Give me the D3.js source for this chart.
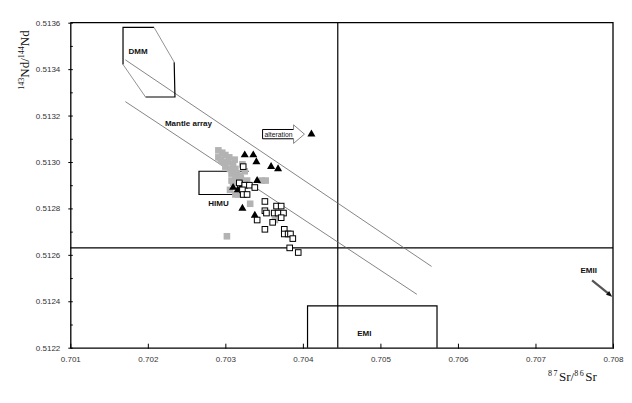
<!DOCTYPE html>
<html>
<head>
<meta charset="utf-8">
<script src="https://cdn.jsdelivr.net/npm/d3@7"></script>
<style>
    body { margin: 0; background: #fff; }
    svg { display: block; font-family: "Liberation Sans", Arial, sans-serif; }
    .tick text { font-size: 8px; fill: #333; }
    .lbl { font-size: 8px; font-weight: bold; fill: #111; }
    .title { font-family: "Liberation Serif", "Times New Roman", serif; font-size: 13px; fill: #111; }
</style>
</head>
<body>
<svg width="632" height="403"></svg>
<script>
// 87Sr/86Sr vs 143Nd/144Nd
const xTicks = [0.701, 0.702, 0.703, 0.704, 0.705, 0.706, 0.707, 0.708];
const yTicks = [0.5122, 0.5124, 0.5126, 0.5128, 0.513, 0.5132, 0.5134, 0.5136];
const yMinor = [0.5123, 0.5125, 0.5127, 0.5129, 0.5131, 0.5133, 0.5135];

// bulk earth reference lines
const bulkSr = 0.70445;
const churNd = 0.51263;

// grey field (published data)
const greyPts = [
    [0.70291, 0.51305], [0.703, 0.51303], [0.70291, 0.51302], [0.70305, 0.51302],
    [0.70297, 0.513], [0.70303, 0.513], [0.7031, 0.51299], [0.703, 0.51298],
    [0.70306, 0.51297], [0.70313, 0.51297], [0.70308, 0.51295], [0.70315, 0.51295],
    [0.70319, 0.51294], [0.70313, 0.51293], [0.70317, 0.51292], [0.7031, 0.51291],
    [0.70306, 0.51288], [0.70313, 0.51286], [0.70317, 0.51286], [0.70347, 0.51292],
    [0.70352, 0.51292], [0.70332, 0.51282], [0.70364, 0.51275], [0.70302, 0.51268],
    [0.70322, 0.51299], [0.70294, 0.51301], [0.70302, 0.513], [0.7032, 0.51293],
    [0.70325, 0.51296], [0.70296, 0.51304], [0.70308, 0.51292], [0.70312, 0.51301],
    [0.70322, 0.5129], [0.70328, 0.51292]
];

// filled triangles
const triPts = [
    [0.70325, 0.51303], [0.70336, 0.51303], [0.7034, 0.513], [0.70359, 0.51298],
    [0.70368, 0.51297], [0.70341, 0.51292], [0.7031, 0.51289], [0.70316, 0.51288],
    [0.70322, 0.5129], [0.70322, 0.5128], [0.70338, 0.51277], [0.70411, 0.51312]
];

// open squares
const openPts = [
    [0.70323, 0.51298], [0.70318, 0.51291], [0.70325, 0.5129], [0.70331, 0.5129],
    [0.70338, 0.51289], [0.70322, 0.51288], [0.70323, 0.51286], [0.70328, 0.51286],
    [0.70351, 0.51283], [0.70366, 0.51281], [0.70372, 0.51281], [0.70351, 0.51279],
    [0.70353, 0.51278], [0.70363, 0.51278], [0.70368, 0.51278], [0.70375, 0.51278],
    [0.70372, 0.51276], [0.70361, 0.51274], [0.70341, 0.51275], [0.70351, 0.51271],
    [0.70376, 0.51271], [0.70376, 0.51269], [0.70381, 0.51269], [0.70384, 0.51269],
    [0.70387, 0.51267], [0.70383, 0.51263], [0.70394, 0.51261]
];

// reservoir fields
const dmmBlack = [
    [[0.70168, 0.51342], [0.70168, 0.51358], [0.70208, 0.51358]],
    [[0.70234, 0.51343], [0.70235, 0.51328], [0.70197, 0.51328]]
];
const dmmGrey = [
    [[0.70208, 0.51358], [0.70234, 0.51343]],
    [[0.70197, 0.51328], [0.70168, 0.51342]]
];
const himuBox = [0.70266, 0.7033, 0.51286, 0.51296];
const emiBox = [0.70406, 0.70573, 0.5122, 0.51238];
const mantleArray = [
    [[0.70171, 0.51344], [0.70566, 0.51255]],
    [[0.70171, 0.51326], [0.70547, 0.51243]]
];
const emiiArrow = [[0.70773, 0.51249], [0.70799, 0.51242]];
// alteration arrow: box x0..x1, head tip, box y, head y
const altX = [0.70348, 0.70388, 0.70402];
const altY = [0.51314, 0.5131, 0.51312, 0.51316, 0.51308];

const labels = [
    { text: "DMM", x: 0.70175, y: 0.513465 },
    { text: "Mantle array", x: 0.70222, y: 0.513155 },
    { text: "HIMU", x: 0.70278, y: 0.51281 },
    { text: "EMI", x: 0.7047, y: 0.51225 },
    { text: "EMII", x: 0.70758, y: 0.51252 }
];

const svg = d3.select("svg");
const x = d3.scaleLinear().domain([0.701, 0.708]).range([70.3, 613]);
const y = d3.scaleLinear().domain([0.5122, 0.5136]).range([347.7, 22.7]);
const line = d3.line().x(d => x(d[0])).y(d => y(d[1]));

// axes
svg.append("g")
    .attr("transform", `translate(0,${y(0.5122)})`)
    .call(d3.axisBottom(x).tickValues(xTicks).tickFormat(d3.format(".3f")).tickSizeInner(-4).tickSizeOuter(0).tickPadding(9))
    .call(g => g.selectAll(".tick line").attr("y2", -4).attr("y1", 1))
    .call(g => g.select(".domain").attr("stroke-width", 1.3));

svg.append("g")
    .attr("transform", `translate(${x(0.701)},0)`)
    .call(d3.axisLeft(y).tickValues(yTicks).tickFormat(d3.format(".4f")).tickSizeInner(-2.5).tickSizeOuter(0).tickPadding(10))
    .call(g => g.selectAll(".tick line").attr("x1", -2))
    .call(g => g.select(".domain").attr("stroke-width", 1.3));

svg.append("g")
    .attr("transform", `translate(${x(0.701)},0)`)
    .call(d3.axisLeft(y).tickValues(yMinor).tickFormat("").tickSizeInner(-2.5).tickSizeOuter(0))
    .call(g => g.select(".domain").remove());

// frame top / right
svg.append("path").attr("d", line([[0.701, 0.5136], [0.708, 0.5136], [0.708, 0.5122]]))
    .attr("fill", "none").attr("stroke", "#000").attr("stroke-width", 1.3);

// reference lines
svg.append("path").attr("d", line([[0.701, churNd], [0.708, churNd]]))
    .attr("stroke", "#000").attr("stroke-width", 1.2);
svg.append("path").attr("d", line([[bulkSr, 0.5122], [bulkSr, 0.5136]]))
    .attr("stroke", "#000").attr("stroke-width", 1.2);

// mantle array
mantleArray.forEach(seg => {
    svg.append("path").attr("d", line(seg)).attr("stroke", "#666").attr("stroke-width", 0.8);
});

// DMM
dmmBlack.forEach(seg => {
    svg.append("path").attr("d", line(seg)).attr("fill", "none").attr("stroke", "#000").attr("stroke-width", 1.2);
});
dmmGrey.forEach(seg => {
    svg.append("path").attr("d", line(seg)).attr("stroke", "#777").attr("stroke-width", 0.8);
});

// HIMU, EMI boxes
svg.append("path")
    .attr("d", line([[himuBox[1], himuBox[3]], [himuBox[0], himuBox[3]], [himuBox[0], himuBox[2]], [himuBox[1], himuBox[2]]]))
    .attr("fill", "none").attr("stroke", "#000").attr("stroke-width", 1.2);
svg.append("path")
    .attr("d", line([[emiBox[0], emiBox[2]], [emiBox[0], emiBox[3]], [emiBox[1], emiBox[3]], [emiBox[1], emiBox[2]]]))
    .attr("fill", "none").attr("stroke", "#000").attr("stroke-width", 1.2);

// EMII arrow
const [a0, a1] = emiiArrow.map(d => [x(d[0]), y(d[1])]);
const ang = Math.atan2(a1[1] - a0[1], a1[0] - a0[0]);
svg.append("line")
    .attr("x1", a0[0]).attr("y1", a0[1])
    .attr("x2", a1[0] - 4 * Math.cos(ang)).attr("y2", a1[1] - 4 * Math.sin(ang))
    .attr("stroke", "#555").attr("stroke-width", 2.2);
svg.append("path")
    .attr("d", d3.line()([
        a1,
        [a1[0] - 6 * Math.cos(ang) + 2.5 * Math.sin(ang), a1[1] - 6 * Math.sin(ang) - 2.5 * Math.cos(ang)],
        [a1[0] - 6 * Math.cos(ang) - 2.5 * Math.sin(ang), a1[1] - 6 * Math.sin(ang) + 2.5 * Math.cos(ang)]
    ]) + "Z")
    .attr("fill", "#111");

// alteration arrow
svg.append("path")
    .attr("d", line([[altX[1], altY[0]], [altX[0], altY[0]], [altX[0], altY[1]], [altX[1], altY[1]]]))
    .attr("fill", "#fff").attr("stroke", "#000").attr("stroke-width", 1);
svg.append("path")
    .attr("d", line([[altX[1], altY[0]], [altX[1], altY[3]], [altX[2], altY[2]], [altX[1], altY[4]], [altX[1], altY[1]]]))
    .attr("fill", "none").attr("stroke", "#777").attr("stroke-width", 0.9);
svg.append("text")
    .attr("x", x(altX[0]) + 2).attr("y", y(altY[2]) + 2.5)
    .attr("font-size", 6.8).attr("fill", "#111")
    .text("alteration");

// data
svg.append("g").selectAll("rect").data(greyPts).join("rect")
    .attr("x", d => x(d[0]) - 3.3).attr("y", d => y(d[1]) - 3.3)
    .attr("width", 6.6).attr("height", 6.6)
    .attr("fill", "#b3b3b3");

svg.append("g").selectAll("path").data(triPts).join("path")
    .attr("transform", d => `translate(${x(d[0])},${y(d[1])})`)
    .attr("d", d3.symbol(d3.symbolTriangle, 28))
    .attr("fill", "#000");

svg.append("g").selectAll("rect").data(openPts).join("rect")
    .attr("x", d => x(d[0]) - 2.8).attr("y", d => y(d[1]) - 2.8)
    .attr("width", 5.6).attr("height", 5.6)
    .attr("fill", "#fff").attr("stroke", "#000").attr("stroke-width", 1);

// field labels
svg.append("g").selectAll("text").data(labels).join("text")
    .attr("class", "lbl")
    .attr("x", d => x(d.x)).attr("y", d => y(d.y))
    .text(d => d.text);

// axis titles
const yt = svg.append("text").attr("class", "title")
    .attr("transform", "translate(29,60) rotate(-90)")
    .attr("text-anchor", "middle");
yt.append("tspan").attr("font-size", 8).attr("dy", -5).text("143");
yt.append("tspan").attr("dy", 5).text("Nd/");
yt.append("tspan").attr("font-size", 8).attr("dy", -5).text("144");
yt.append("tspan").attr("dy", 5).text("Nd");

const xt = svg.append("text").attr("class", "title")
    .attr("x", 548).attr("y", 381);
xt.append("tspan").attr("font-size", 8).attr("dy", -5).attr("letter-spacing", 1.5).text("87");
xt.append("tspan").attr("dy", 5).text("Sr/");
xt.append("tspan").attr("font-size", 8).attr("dy", -5).attr("letter-spacing", 1.5).text("86");
xt.append("tspan").attr("dy", 5).text("Sr");
</script>
</body>
</html>
